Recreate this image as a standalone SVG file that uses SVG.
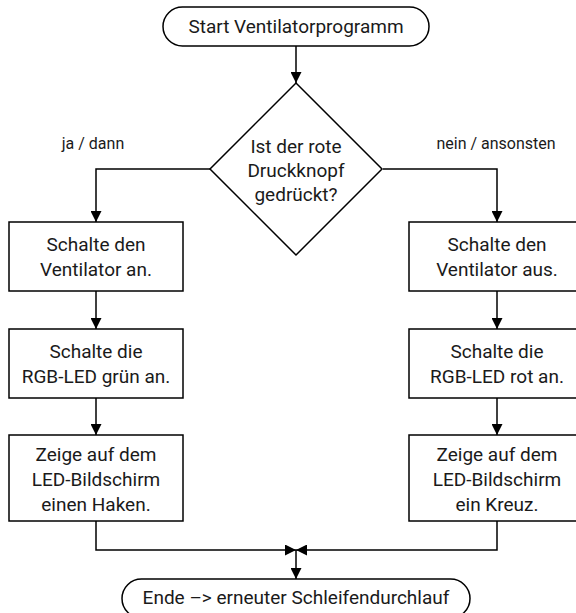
<svg xmlns="http://www.w3.org/2000/svg" width="576" height="613" viewBox="0 0 576 613">
<style>
.shape{fill:#fff;stroke:#000;stroke-width:1.5}
.t{font-family:Roboto,"Liberation Sans",sans-serif;font-size:19px;fill:#1a1a1a;text-anchor:middle}
.lbl{font-family:Roboto,"Liberation Sans",sans-serif;font-size:16px;fill:#1a1a1a;text-anchor:middle}
.c{fill:none;stroke:#000;stroke-width:1.5}
</style>
<defs>
<marker id="ah" viewBox="0 0 10 10" refX="10" refY="5" markerUnits="userSpaceOnUse" markerWidth="11" markerHeight="11" orient="auto">
<path d="M0,0 L10,5 L0,10 z" fill="#000"/>
</marker>
</defs>
<rect width="576" height="613" fill="#fff"/>
<g id="connectors">
<path class="c" d="M296,46 V83" marker-end="url(#ah)"/>
<path class="c" d="M210,169 H96 V222" marker-end="url(#ah)"/>
<path class="c" d="M383,169 H497 V222" marker-end="url(#ah)"/>
<path class="c" d="M96,291 V329" marker-end="url(#ah)"/>
<path class="c" d="M96,398 V435" marker-end="url(#ah)"/>
<path class="c" d="M497,291 V329" marker-end="url(#ah)"/>
<path class="c" d="M497,398 V435" marker-end="url(#ah)"/>
<path class="c" d="M96,521 V550 H296" marker-end="url(#ah)"/>
<path class="c" d="M497,521 V550 H296" marker-end="url(#ah)"/>
<path class="c" d="M296,550 V579" marker-end="url(#ah)"/>
<text class="lbl" x="93" y="149">ja / dann</text>
<text class="lbl" x="496" y="149">nein / ansonsten</text>
</g>
<g id="start">
<rect class="shape" x="163" y="7" width="266" height="39" rx="19.5"/>
<text class="t" x="296" y="33">Start Ventilatorprogramm</text>
</g>
<g id="decision">
<path class="shape" d="M296,83 L382,169 L296,255 L210,169 Z"/>
<text class="t" x="296" y="153">Ist der rote</text>
<text class="t" x="296" y="177">Druckknopf</text>
<text class="t" x="296" y="201">gedrückt?</text>
</g>
<g id="yes1">
<rect class="shape" x="9" y="222" width="174" height="69"/>
<text class="t" x="96" y="251">Schalte den</text>
<text class="t" x="96" y="276">Ventilator an.</text>
</g>
<g id="yes2">
<rect class="shape" x="9" y="329" width="174" height="69"/>
<text class="t" x="96" y="358">Schalte die</text>
<text class="t" x="96" y="383">RGB-LED grün an.</text>
</g>
<g id="yes3">
<rect class="shape" x="9" y="435" width="174" height="86"/>
<text class="t" x="96" y="461">Zeige auf dem</text>
<text class="t" x="96" y="486">LED-Bildschirm</text>
<text class="t" x="96" y="511">einen Haken.</text>
</g>
<g id="no1">
<rect class="shape" x="409" y="222" width="176" height="69"/>
<text class="t" x="497" y="251">Schalte den</text>
<text class="t" x="497" y="276">Ventilator aus.</text>
</g>
<g id="no2">
<rect class="shape" x="409" y="329" width="176" height="69"/>
<text class="t" x="497" y="358">Schalte die</text>
<text class="t" x="497" y="383">RGB-LED rot an.</text>
</g>
<g id="no3">
<rect class="shape" x="409" y="435" width="176" height="86"/>
<text class="t" x="497" y="461">Zeige auf dem</text>
<text class="t" x="497" y="486">LED-Bildschirm</text>
<text class="t" x="497" y="511">ein Kreuz.</text>
</g>
<g id="end">
<rect class="shape" x="122" y="579" width="348" height="39" rx="19.5"/>
<text class="t" x="296" y="604">Ende –&gt; erneuter Schleifendurchlauf</text>
</g>
</svg>
